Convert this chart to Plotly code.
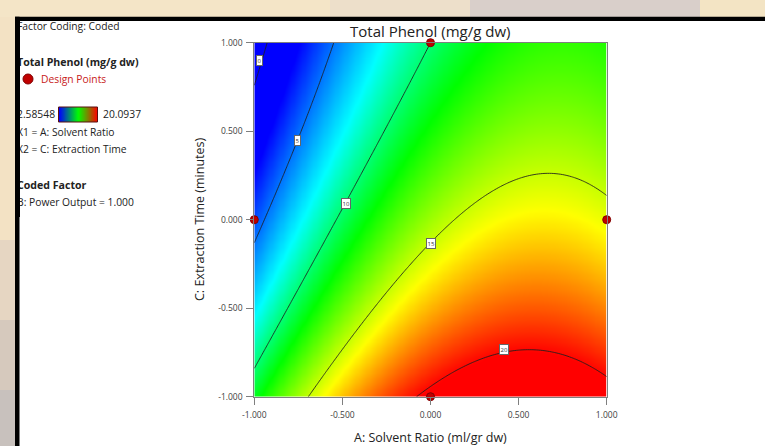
import numpy as np
import plotly.graph_objects as go

W, H = 765, 446

# ---- data ----
# fitted quadratic model (coded units, B: Power Output = 1.000)
coef_names = ["b0", "A", "C", "A2", "C2", "AC"]
coef_values = [14.31, 5.69, -5.20, -4.44, 0.89, 0.98]
contour_levels = [0, 5, 10, 15, 20]
label_text = ["0", "5", "10", "15", "20"]
label_A = [-0.968, -0.757, -0.478, 0.0, 0.419]
label_C = [0.897, 0.445, 0.094, -0.132, -0.731]
design_A = [0.0, -1.0, 1.0, 0.0]
design_C = [1.0, 0.0, 0.0, -1.0]
tick_vals = [-1.0, -0.5, 0.0, 0.5, 1.0]
tick_text = ["-1.000", "-0.500", "0.000", "0.500", "1.000"]
z_min, z_max = 2.58548, 20.0937

b = dict(zip(coef_names, coef_values))
a_grid = np.linspace(-1, 1, 161)
c_grid = np.linspace(-1, 1, 161)
AA, CC = np.meshgrid(a_grid, c_grid)
Z = (b["b0"] + b["A"] * AA + b["C"] * CC + b["A2"] * AA ** 2
     + b["C2"] * CC ** 2 + b["AC"] * AA * CC)

rainbow = [[0.0, "#0000ff"], [0.3, "#00ffff"], [0.52, "#00ff00"],
           [0.76, "#ffff00"], [1.0, "#ff0000"]]

def px(x):
    return x / W

def py(y):
    return 1 - y / H

fig = go.Figure()
fig.add_trace(go.Contour(
    x=a_grid, y=c_grid, z=Z,
    colorscale=rainbow, zmin=z_min, zmax=z_max, zauto=False,
    showscale=False,
    contours=dict(start=contour_levels[0], end=contour_levels[-1],
                  size=contour_levels[1] - contour_levels[0], coloring="heatmap"),
    line=dict(color="rgba(30,30,30,0.85)", width=1),
    hoverinfo="skip",
))
fig.add_trace(go.Scatter(
    x=design_A, y=design_C, mode="markers", cliponaxis=False,
    marker=dict(size=8, color="#c00000", line=dict(color="#800000", width=1)),
    hoverinfo="skip", showlegend=False,
))
# legend gradient bar
fig.add_trace(go.Heatmap(
    z=[np.linspace(z_min, z_max, 60)], x=np.arange(60), y=[0],
    colorscale=[[0, "#0000ff"], [0.5, "#00ff00"], [1, "#ff0000"]],
    showscale=False, xaxis="x2", yaxis="y2", zsmooth="best", hoverinfo="skip",
))

axis_common = dict(
    range=[-1, 1], showgrid=False, zeroline=False, showline=True,
    linecolor="#7f7f7f", linewidth=1, mirror=True, ticks="outside",
    ticklen=7, tickcolor="#7f7f7f", tickvals=tick_vals, ticktext=tick_text,
    tickfont=dict(family="Open Sans", size=8.5, color="#404040"),
    automargin=False,
)
fig.update_layout(
    width=W, height=H, margin=dict(l=0, r=0, t=0, b=0),
    paper_bgcolor="white", plot_bgcolor="white", showlegend=False,
    xaxis=dict(domain=[px(254.3), px(606.7)], ticklabelstandoff=3, **axis_common),
    yaxis=dict(domain=[py(396.7), py(42.7)], ticklabelstandoff=2, **axis_common),
    xaxis2=dict(domain=[px(58.5), px(97.5)], visible=False, anchor="y2"),
    yaxis2=dict(domain=[py(122), py(107)], visible=False, anchor="x2"),
)

shapes = []
# textured page background (top strip and left strip)
top_bands = [(0, 330, "#f4e5c7"), (330, 470, "#eddfca"), (470, 700, "#d9cfca"), (700, 765, "#f3e4c4")]
for x0, x1, col in top_bands:
    shapes.append(dict(type="rect", xref="paper", yref="paper", x0=px(x0), x1=px(x1),
                       y0=py(17), y1=py(0), fillcolor=col, line=dict(width=0), layer="below"))
left_bands = [(17, 240, "#f3e2c4"), (240, 320, "#e6d6c2"), (320, 390, "#d6c9bd"), (390, 446, "#c8c1bd")]
for y0, y1, col in left_bands:
    shapes.append(dict(type="rect", xref="paper", yref="paper", x0=0, x1=px(15),
                       y0=py(y1), y1=py(y0), fillcolor=col, line=dict(width=0), layer="below"))
shapes.append(dict(type="rect", xref="paper", yref="paper", x0=px(15), x1=1,
                   y0=py(21), y1=py(16.7), fillcolor="black", line=dict(width=0), layer="below"))
shapes.append(dict(type="rect", xref="paper", yref="paper", x0=px(15), x1=px(19.5),
                   y0=0, y1=py(16.7), fillcolor="black", line=dict(width=0), layer="below"))
# legend gradient border
shapes.append(dict(type="rect", xref="paper", yref="paper", x0=px(58.5), x1=px(97.5),
                   y0=py(122), y1=py(107), line=dict(color="#5a1010", width=1)))
# legend design point symbol
shapes.append(dict(type="circle", xref="paper", yref="paper", x0=px(23), x1=px(33),
                   y0=py(84), y1=py(74), fillcolor="#c00000", line=dict(color="#800000", width=1)))
fig.update_layout(shapes=shapes)

font = "Open Sans"
anns = []
def txt(x, y, s, size=10.3, color="#222222", bold=False, anchor="left"):
    anns.append(dict(xref="paper", yref="paper", x=px(x), y=py(y), text=("<b>%s</b>" % s if bold else s),
                     showarrow=False, xanchor=anchor, yanchor="middle",
                     font=dict(family=font, size=size, color=color)))

x_text = 14.5
txt(x_text, 26, "Factor Coding: Coded")
txt(x_text, 62, "Total Phenol (mg/g dw)", bold=True, size=10.6)
txt(39, 79, "Design Points", color="#c82020")
txt(x_text, 114, "%.5f" % z_min)
txt(101, 114, "%.4f" % z_max)
txt(x_text, 132, "X1 = A: Solvent Ratio")
txt(x_text, 149, "X2 = C: Extraction Time")
txt(x_text, 185, "Coded Factor", bold=True, size=10.6)
txt(x_text, 202, "B: Power Output = 1.000")

# titles
anns.append(dict(xref="paper", yref="paper", x=px(430), y=py(31), text="Total Phenol (mg/g dw)",
                 showarrow=False, xanchor="center", yanchor="middle",
                 font=dict(family=font, size=15, color="#222222")))
anns.append(dict(xref="paper", yref="paper", x=px(430), y=py(437), text="A: Solvent Ratio (ml/gr dw)",
                 showarrow=False, xanchor="center", yanchor="middle",
                 font=dict(family=font, size=12.5, color="#222222")))
anns.append(dict(xref="paper", yref="paper", x=px(199), y=py(220), text="C: Extraction Time (minutes)",
                 showarrow=False, xanchor="center", yanchor="middle", textangle=-90,
                 font=dict(family=font, size=12.5, color="#222222")))

# contour labels
for t, xa, yc in zip(label_text, label_A, label_C):
    anns.append(dict(x=xa, y=yc, xref="x", yref="y", text=t, showarrow=False,
                     font=dict(family=font, size=6, color="#333333"),
                     bgcolor="white", bordercolor="#666666", borderwidth=1, borderpad=0.5))

# cover the clipped left edge of the legend text (page background + border)
anns.append(dict(xref="paper", yref="paper", x=0, y=py(17), xanchor="left", yanchor="top",
                 text=" ", showarrow=False, width=15, height=200, bgcolor="#f3e2c4",
                 borderpad=0, borderwidth=0, font=dict(size=4)))
anns.append(dict(xref="paper", yref="paper", x=px(15), y=py(16.7), xanchor="left", yanchor="top",
                 text=" ", showarrow=False, width=4.5, height=200, bgcolor="black",
                 borderpad=0, borderwidth=0, font=dict(size=4)))
fig.update_layout(annotations=anns)

fig.write_html("out.html", config={"displayModeBar": False},
               post_script="document.body.style.margin='0px';")
